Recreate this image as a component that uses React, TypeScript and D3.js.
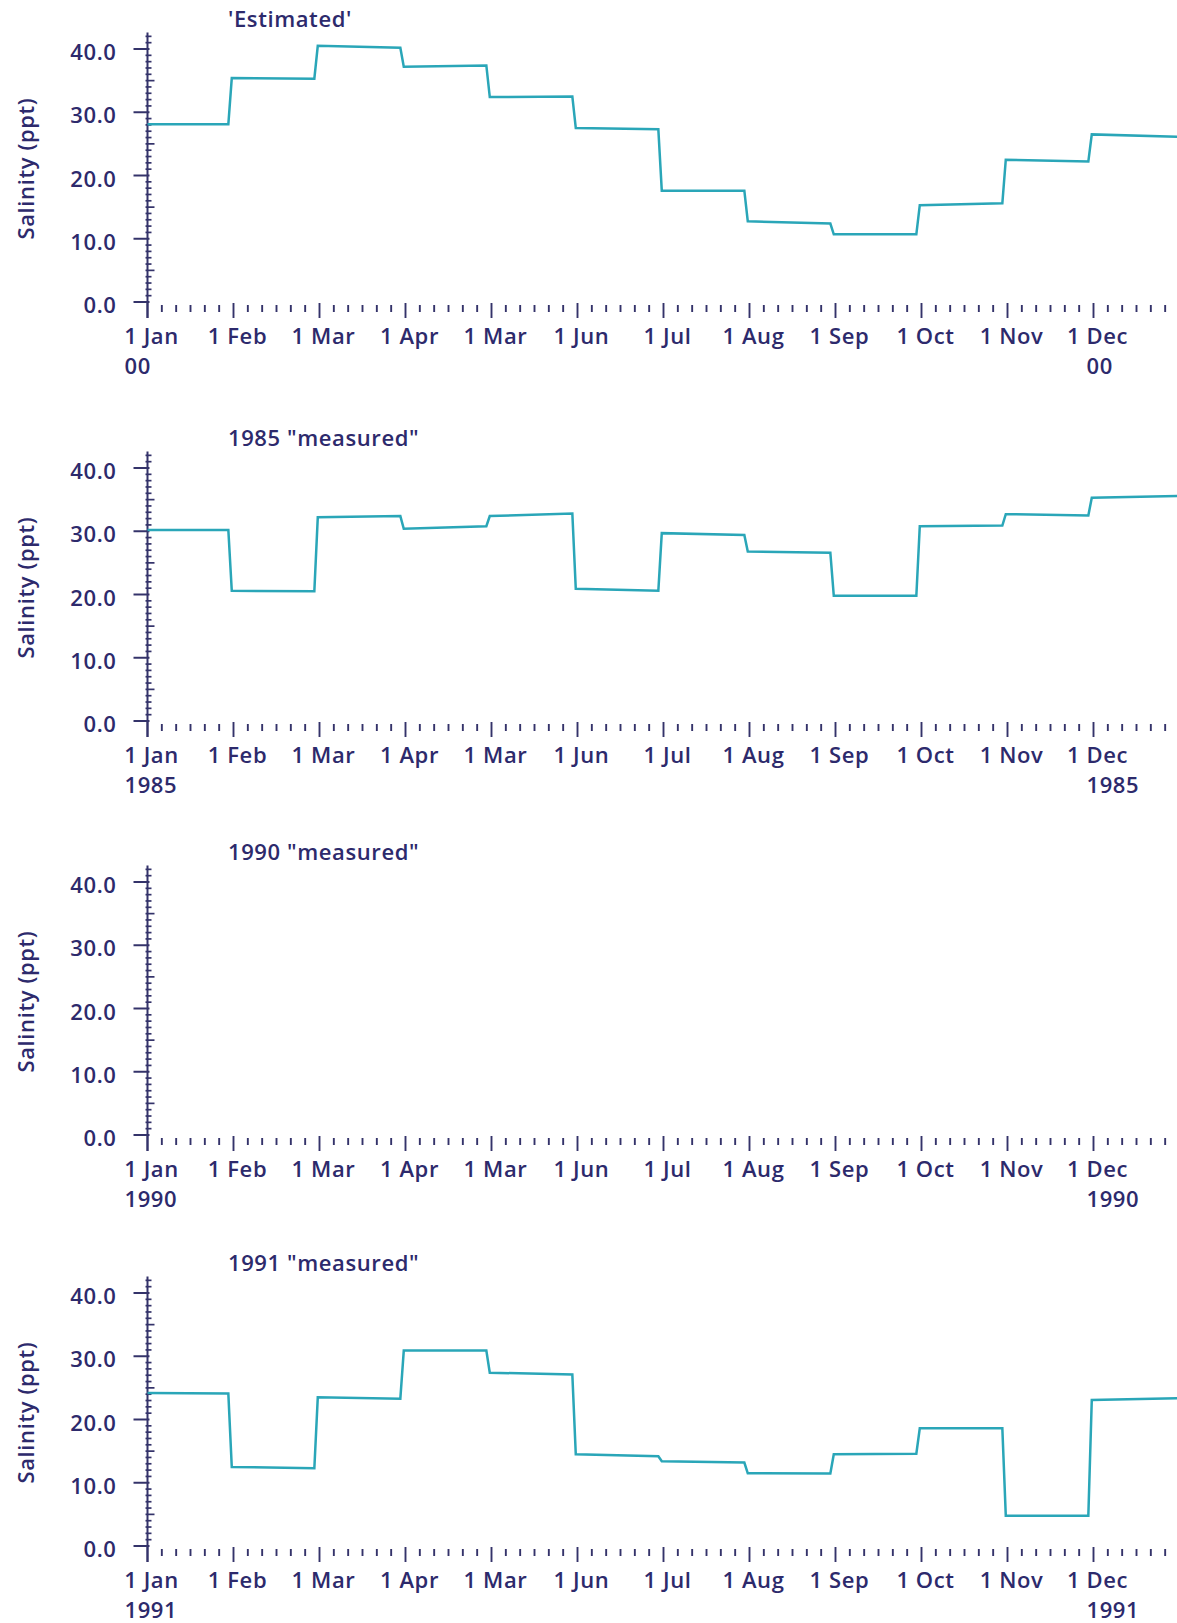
import * as d3 from 'd3';

// month tick labels as printed (the fifth one really reads "Mar" in the source)
const monthLabels = ['Jan', 'Feb', 'Mar', 'Apr', 'Mar', 'Jun', 'Jul', 'Aug', 'Sep', 'Oct', 'Nov', 'Dec'];
const yTickValues = [0, 10, 20, 30, 40];

const panelTitles = ["'Estimated'", '1985 "measured"', '1990 "measured"', '1991 "measured"'];
const yearLabels = ['00', '1985', '1990', '1991'];

// salinity at the start and end of each month (ppt)
const estimatedStart = [28.1, 35.4, 40.5, 37.2, 32.4, 27.5, 17.6, 12.75, 10.7, 15.3, 22.5, 26.5];
const estimatedEnd = [28.1, 35.3, 40.2, 37.4, 32.5, 27.3, 17.6, 12.4, 10.7, 15.6, 22.2, 26.1];

const m1985Start = [30.2, 20.6, 32.2, 30.4, 32.4, 20.9, 29.7, 26.8, 19.8, 30.8, 32.7, 35.3];
const m1985End = [30.2, 20.5, 32.4, 30.8, 32.8, 20.6, 29.4, 26.6, 19.8, 30.9, 32.5, 35.6];

const m1990Start: number[] = [];
const m1990End: number[] = [];

const m1991Start = [24.2, 12.5, 23.5, 30.9, 27.4, 14.5, 13.4, 11.5, 14.5, 18.6, 4.8, 23.1];
const m1991End = [24.1, 12.3, 23.3, 30.9, 27.1, 14.2, 13.2, 11.45, 14.6, 18.6, 4.8, 23.35];

const seriesStart = [estimatedStart, m1985Start, m1990Start, m1991Start];
const seriesEnd = [estimatedEnd, m1985End, m1990End, m1991End];

const W = 1177;
const H = 1623;
const panelTops = [49, 468, 882, 1293];
const plotH = 253;
const axisX = 147.5;
const monthW = 86;

const textColor = '#2d2a6c';
const tickColor = '#34336a';
const lineColor = '#2aa6b8';
const font = "'Open Sans', 'Noto Sans', sans-serif";
const fs = 22;
const ls = 0.6;

const x = d3.scaleLinear().domain([0, 12]).range([axisX, axisX + 12 * monthW]);

function Label(props: any) {
  return (
    <text fontSize={fs} fontWeight={600} fill={textColor} fontFamily={font} letterSpacing={ls} {...props} />
  );
}

function Panel({ idx }: { idx: number }) {
  const top = panelTops[idx];
  const y = d3.scaleLinear().domain([0, 40]).range([top + plotH, top]);
  const y0 = y(0);

  const pts: [number, number][] = [];
  const st = seriesStart[idx];
  const en = seriesEnd[idx];
  st.forEach((v, i) => {
    pts.push([i === 0 ? 0 : i - 0.02, v]);
    pts.push([i === st.length - 1 ? 12 : i + 1 - 0.06, en[i]]);
  });
  const line = d3.line<[number, number]>()
    .x(d => x(d[0]))
    .y(d => y(d[1]));

  const yMinor = d3.range(1, 43).filter(v => v % 10 !== 0);
  const xMinor = d3.range(0, 72).filter(v => v % 6 !== 0).map(v => v / 6);
  const xMajor = d3.range(0, 13);

  return (
    <g>
      {/* y axis */}
      <line x1={axisX} x2={axisX} y1={y(42.6)} y2={y0 + 16} stroke={tickColor} strokeWidth={2} />
      {yTickValues.map(v => (
        <line key={'ym' + v} x1={axisX - 14} x2={axisX + 2} y1={y(v)} y2={y(v)} stroke={tickColor} strokeWidth={2} />
      ))}
      {yMinor.map(v => (
        <line key={'yn' + v} x1={axisX - 2} x2={axisX + (v % 5 === 0 ? 7 : 4)} y1={y(v)} y2={y(v)}
          stroke={tickColor} strokeWidth={1.7} />
      ))}
      {yTickValues.map(v => (
        <Label key={'yl' + v} x={axisX - 31} y={y(v) + 2} textAnchor="end" dominantBaseline="central">
          {v.toFixed(1)}
        </Label>
      ))}
      <Label transform={`translate(25,${(y0 + top) / 2 - 7}) rotate(-90)`} textAnchor="middle"
        dominantBaseline="central">
        Salinity (ppt)
      </Label>

      {/* x axis ticks */}
      {xMinor.map(m => (
        <line key={'xn' + m} x1={x(m)} x2={x(m)} y1={y0 + 3} y2={y0 + 10} stroke={tickColor} strokeWidth={1.9} />
      ))}
      {xMajor.map(m => (
        <line key={'xm' + m} x1={x(m)} x2={x(m)} y1={y0 + 1} y2={y0 + 16} stroke={tickColor} strokeWidth={1.9} />
      ))}
      {monthLabels.map((lab, i) => (
        <Label key={'xl' + i} x={x(i) + 4} y={y0 + 42} textAnchor="middle">{'1 ' + lab}</Label>
      ))}
      <Label x={x(0) - 23} y={y0 + 72}>{yearLabels[idx]}</Label>
      <Label x={x(11) - 7} y={y0 + 72}>{yearLabels[idx]}</Label>

      {/* title */}
      <Label x={228} y={top - 22}>{panelTitles[idx]}</Label>

      {pts.length > 0 && (
        <path d={line(pts) ?? ''} fill="none" stroke={lineColor} strokeWidth={2.5} strokeLinejoin="miter" />
      )}
    </g>
  );
}

export default function App() {
  return (
    <svg width={W} height={H} style={{ position: 'absolute', left: 0, top: 0, background: '#fff' }}>
      {panelTitles.map((_, i) => (
        <Panel key={i} idx={i} />
      ))}
    </svg>
  );
}
